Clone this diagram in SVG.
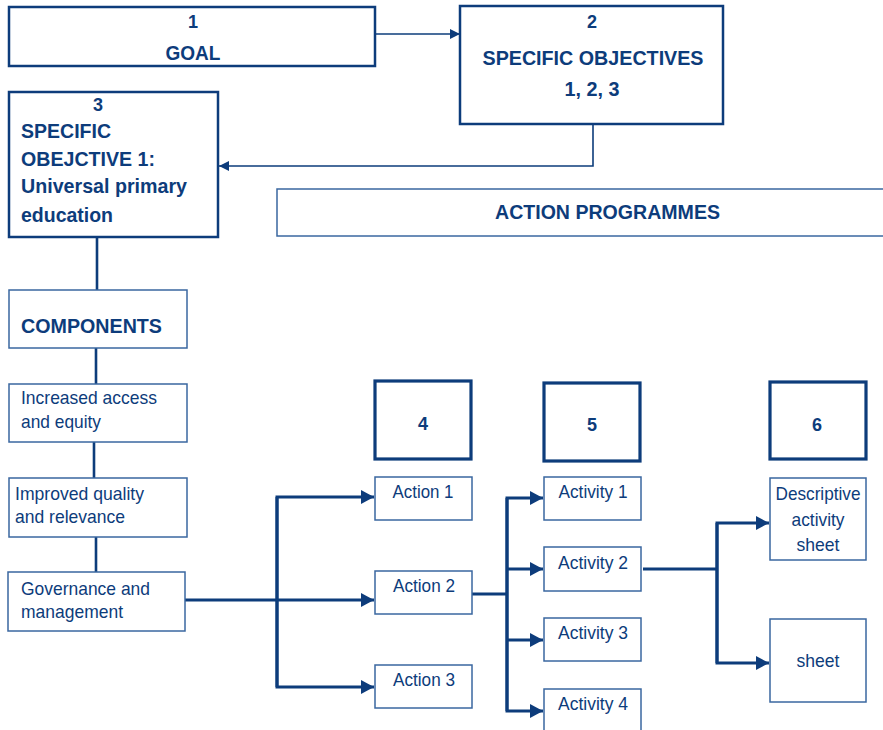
<svg xmlns="http://www.w3.org/2000/svg" width="883" height="730" viewBox="0 0 883 730">
<style>
text{font-family:"Liberation Sans",Arial,sans-serif;fill:#0d3c7b}
.b{font-weight:bold;font-size:21px}
.n{font-weight:bold;font-size:18px}
.r{font-size:19px}
.thick{fill:#fff;stroke:#0d3c7b;stroke-width:2.5}
.heavy{fill:#fff;stroke:#0d3c7b;stroke-width:3.2}
.thin{fill:#fff;stroke:#3a67a0;stroke-width:1.5}
.c1{fill:none;stroke:#0d3c7b;stroke-width:1.6}
.c2{fill:none;stroke:#0d3c7b;stroke-width:2.6}
.c3{fill:none;stroke:#0d3c7b;stroke-width:3}
</style>
<defs>
<marker id="as" markerUnits="userSpaceOnUse" markerWidth="12" markerHeight="12" refX="10" refY="6" orient="auto"><path d="M0,1 L10,6 L0,11 Z" fill="#0d3c7b"/></marker>
<marker id="al" markerUnits="userSpaceOnUse" markerWidth="14" markerHeight="16" refX="13" refY="8" orient="auto"><path d="M0,1 L13,8 L0,15 Z" fill="#0d3c7b"/></marker>
</defs>

<g id="connectors">
<path class="c1" d="M375,34 H460" marker-end="url(#as)"/>
<path class="c1" d="M593,124 V166 H219" marker-end="url(#as)"/>
<path class="c2" d="M97,238 V290"/>
<path class="c2" d="M96,348 V384"/>
<path class="c2" d="M94,442 V478"/>
<path class="c2" d="M96,537 V572"/>
<path class="c3" d="M185,600 H374" marker-end="url(#al)"/>
<path class="c3" d="M277,687 V497 H374" marker-end="url(#al)"/>
<path class="c3" d="M277,497 V687 H374" marker-end="url(#al)"/>
<path class="c3" d="M472,594 H507"/>
<path class="c3" d="M507,711 V498 H543" marker-end="url(#al)"/>
<path class="c3" d="M507,569 H543" marker-end="url(#al)"/>
<path class="c3" d="M507,640 H543" marker-end="url(#al)"/>
<path class="c3" d="M507,498 V711 H543" marker-end="url(#al)"/>
<path class="c3" d="M643,569 H717"/>
<path class="c3" d="M717,663 V523 H769" marker-end="url(#al)"/>
<path class="c3" d="M717,523 V663 H769" marker-end="url(#al)"/>
</g>

<g id="goal">
<rect class="thick" x="9" y="7" width="366" height="59"/>
<text class="n" x="193" y="28" text-anchor="middle">1</text>
<text class="b" x="193" y="60" text-anchor="middle" textLength="55" lengthAdjust="spacingAndGlyphs">GOAL</text>
</g>

<g id="specific-objectives">
<rect class="thick" x="460" y="6" width="263" height="118"/>
<text class="n" x="592" y="28" text-anchor="middle">2</text>
<text class="b" x="593" y="65" text-anchor="middle" textLength="221" lengthAdjust="spacingAndGlyphs">SPECIFIC OBJECTIVES</text>
<text class="b" x="592" y="96" text-anchor="middle" textLength="55" lengthAdjust="spacingAndGlyphs">1, 2, 3</text>
</g>

<g id="specific-objective-1">
<rect class="thick" x="9" y="92" width="209" height="145"/>
<text class="n" x="98" y="111" text-anchor="middle">3</text>
<text class="b" x="21" y="138" textLength="90" lengthAdjust="spacingAndGlyphs">SPECIFIC</text>
<text class="b" x="21" y="166" textLength="134" lengthAdjust="spacingAndGlyphs">OBEJCTIVE 1:</text>
<text class="b" x="21" y="193" textLength="166" lengthAdjust="spacingAndGlyphs">Universal primary</text>
<text class="b" x="21" y="222" textLength="92" lengthAdjust="spacingAndGlyphs">education</text>
</g>

<g id="action-programmes">
<rect class="thin" x="277" y="189" width="620" height="47"/>
<text class="b" x="495" y="219" textLength="225" lengthAdjust="spacingAndGlyphs">ACTION PROGRAMMES</text>
</g>

<g id="components">
<rect class="thin" x="9" y="290" width="178" height="58"/>
<text class="b" x="21" y="333" textLength="141" lengthAdjust="spacingAndGlyphs">COMPONENTS</text>
</g>

<g id="access">
<rect class="thin" x="9" y="384" width="178" height="58"/>
<text class="r" x="21" y="404" textLength="136" lengthAdjust="spacingAndGlyphs">Increased access</text>
<text class="r" x="21" y="428" textLength="80" lengthAdjust="spacingAndGlyphs">and equity</text>
</g>

<g id="quality">
<rect class="thin" x="9" y="478" width="178" height="59"/>
<text class="r" x="15" y="500" textLength="129" lengthAdjust="spacingAndGlyphs">Improved quality</text>
<text class="r" x="15" y="523" textLength="110" lengthAdjust="spacingAndGlyphs">and relevance</text>
</g>

<g id="governance">
<rect class="thin" x="8" y="572" width="177" height="59"/>
<text class="r" x="21" y="595" textLength="129" lengthAdjust="spacingAndGlyphs">Governance and</text>
<text class="r" x="21" y="618" textLength="102" lengthAdjust="spacingAndGlyphs">management</text>
</g>

<g id="box-4">
<rect class="heavy" x="375" y="381" width="96" height="78"/>
<text class="n" x="423" y="430" text-anchor="middle">4</text>
</g>
<g id="box-5">
<rect class="heavy" x="544" y="383" width="96" height="78"/>
<text class="n" x="592" y="431" text-anchor="middle">5</text>
</g>
<g id="box-6">
<rect class="heavy" x="770" y="382" width="96" height="77"/>
<text class="n" x="817" y="431" text-anchor="middle">6</text>
</g>

<g id="action-1">
<rect class="thin" x="375" y="477" width="97" height="43"/>
<text class="r" x="423" y="498" text-anchor="middle" textLength="61" lengthAdjust="spacingAndGlyphs">Action 1</text>
</g>
<g id="action-2">
<rect class="thin" x="375" y="571" width="97" height="43"/>
<text class="r" x="424" y="592" text-anchor="middle" textLength="62" lengthAdjust="spacingAndGlyphs">Action 2</text>
</g>
<g id="action-3">
<rect class="thin" x="375" y="665" width="97" height="43"/>
<text class="r" x="424" y="686" text-anchor="middle" textLength="62" lengthAdjust="spacingAndGlyphs">Action 3</text>
</g>

<g id="activity-1">
<rect class="thin" x="544" y="477" width="97" height="43"/>
<text class="r" x="593" y="498" text-anchor="middle" textLength="69" lengthAdjust="spacingAndGlyphs">Activity 1</text>
</g>
<g id="activity-2">
<rect class="thin" x="544" y="547" width="97" height="44"/>
<text class="r" x="593" y="569" text-anchor="middle" textLength="70" lengthAdjust="spacingAndGlyphs">Activity 2</text>
</g>
<g id="activity-3">
<rect class="thin" x="544" y="618" width="97" height="43"/>
<text class="r" x="593" y="639" text-anchor="middle" textLength="70" lengthAdjust="spacingAndGlyphs">Activity 3</text>
</g>
<g id="activity-4">
<rect class="thin" x="544" y="689" width="97" height="50"/>
<text class="r" x="593" y="710" text-anchor="middle" textLength="70" lengthAdjust="spacingAndGlyphs">Activity 4</text>
</g>

<g id="descriptive-sheet">
<rect class="thin" x="770" y="478" width="96" height="82"/>
<text class="r" x="818" y="500" text-anchor="middle" textLength="85" lengthAdjust="spacingAndGlyphs">Descriptive</text>
<text class="r" x="818" y="526" text-anchor="middle" textLength="53" lengthAdjust="spacingAndGlyphs">activity</text>
<text class="r" x="818" y="551" text-anchor="middle" textLength="43" lengthAdjust="spacingAndGlyphs">sheet</text>
</g>
<g id="sheet">
<rect class="thin" x="770" y="619" width="96" height="83"/>
<text class="r" x="818" y="667" text-anchor="middle" textLength="43" lengthAdjust="spacingAndGlyphs">sheet</text>
</g>
</svg>
